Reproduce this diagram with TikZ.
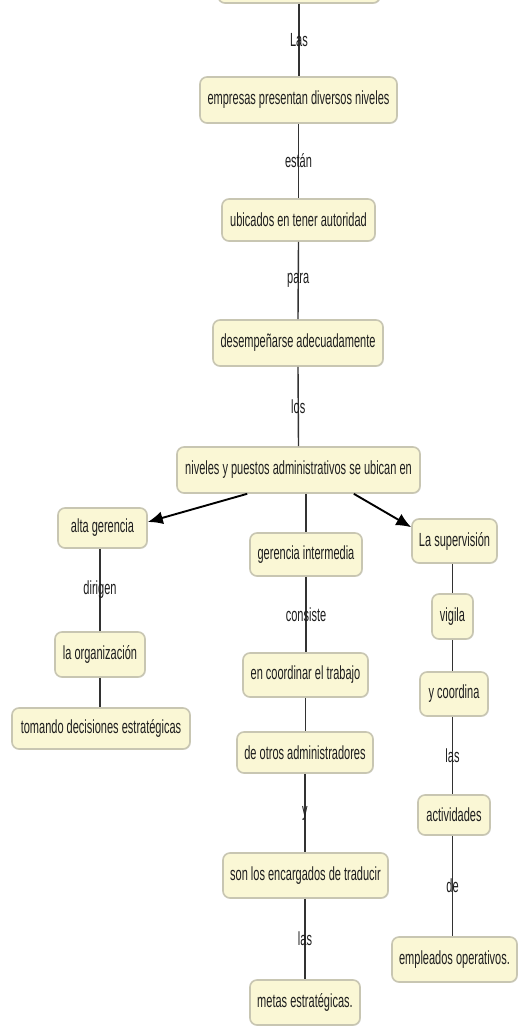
\documentclass[tikz,border=0pt]{standalone}
\usepackage{fontspec}
\setmainfont{Liberation Sans}[FakeStretch=0.58]
\usetikzlibrary{arrows.meta,shadows}
\definecolor{boxfill}{RGB}{250,247,213}
\definecolor{boxline}{RGB}{200,198,178}
\definecolor{txt}{RGB}{30,30,30}
\definecolor{conn}{RGB}{50,50,50}
\tikzset{
  concept/.style={draw=boxline, line width=1.6pt, fill=boxfill, rounded corners=7pt,
    inner sep=0pt, text=txt, font=\fontsize{19}{19}\selectfont,
    drop shadow={shadow xshift=0.8pt, shadow yshift=-0.8pt, fill=gray!35, opacity=0.5}},
  lbl/.style={text=txt, font=\fontsize{19}{19}\selectfont, inner sep=0pt},
  link/.style={draw=conn, line width=1.4pt},
  arr/.style={draw=black, line width=1.9pt, -{Latex[length=15pt,width=13pt]}}
}
\begin{document}
\begin{tikzpicture}[x=1pt,y=-1pt]
\useasboundingbox (0,0) rectangle (519,1030);
\fill[white] (0,0) rectangle (519,1030);
% central column
\node[concept, minimum width=162pt, minimum height=44pt] (top) at (299,-19) {};
\node[concept, minimum width=197pt, minimum height=46pt] (emp) at (298.5,100) {empresas presentan diversos niveles};
\node[concept, minimum width=153pt, minimum height=42pt] (ubi) at (298.5,220) {ubicados en tener autoridad};
\node[concept, minimum width=170pt, minimum height=46pt] (des) at (298,343) {desempeñarse adecuadamente};
\node[concept, minimum width=243pt, minimum height=46pt] (niv) at (298.5,470) {niveles y puestos administrativos se ubican en};
% left column
\node[concept, minimum width=89pt, minimum height=40pt] (alta) at (102.5,528) {alta gerencia};
\node[concept, minimum width=90pt, minimum height=45pt] (org) at (100,654.5) {la organización};
\node[concept, minimum width=178pt, minimum height=41pt] (tom) at (101,728.5) {tomando decisiones estratégicas};
% middle column
\node[concept, minimum width=112pt, minimum height=43pt] (gi) at (306,554.5) {gerencia intermedia};
\node[concept, minimum width=125pt, minimum height=44pt] (coo) at (305.5,675) {en coordinar el trabajo};
\node[concept, minimum width=136pt, minimum height=41pt] (otr) at (305,752.5) {de otros administradores};
\node[concept, minimum width=165pt, minimum height=45pt] (son) at (305.5,875.5) {son los encargados de traducir};
\node[concept, minimum width=110pt, minimum height=45pt] (met) at (305,1002.5) {metas estratégicas.};
% right column
\node[concept, minimum width=85pt, minimum height=44pt] (sup) at (454.5,541) {La supervisión};
\node[concept, minimum width=41pt, minimum height=45pt] (vig) at (452.5,616.5) {vigila};
\node[concept, minimum width=68pt, minimum height=44pt] (ycoo) at (454,694) {y coordina};
\node[concept, minimum width=72pt, minimum height=40pt] (act) at (454,815) {actividades};
\node[concept, minimum width=125pt, minimum height=45pt] (empl) at (454.5,959.5) {empleados operativos.};
% connectors
\draw[link] (top.south) -- node[lbl] (l1) {Las} (emp.north -| top.south);
\draw[link] (emp.south) -- node[lbl] (l2) {están} (ubi.north);
\draw[link] (ubi.south) -- node[lbl] (l3) {para} (des.north);
\draw[link] (des.south) -- node[lbl] (l4) {los} (niv.north);
\draw[link] (niv.south -| gi.north) -- (gi.north);
\draw[arr] ([xshift=71pt]niv.south west) -- ([yshift=6pt]alta.east);
\draw[arr] ([xshift=-67pt]niv.south east) -- ([yshift=-9pt]sup.north west);
\draw[link] (alta.south -| org.north) -- node[lbl] (l5) {dirigen} (org.north);
\draw[link] (org.south) -- (tom.north -| org.south);
\draw[link] (gi.south) -- node[lbl] (l6) {consiste} (coo.north -| gi.south);
\draw[link] (coo.south) -- (otr.north -| coo.south);
\draw[link] (otr.south) -- node[lbl] (l7) {y} (son.north -| otr.south);
\draw[link] (son.south -| met.north) -- node[lbl] (l8) {las} (met.north);
\draw[link] (sup.south -| vig.north) -- (vig.north);
\draw[link] (vig.south) -- (ycoo.north -| vig.south);
\draw[link] (ycoo.south -| vig.south) -- node[lbl] (l9) {las} (act.north -| vig.south);
\draw[link] (act.south -| vig.south) -- node[lbl] (l10) {de} (empl.north -| vig.south);
\end{tikzpicture}
\end{document}
